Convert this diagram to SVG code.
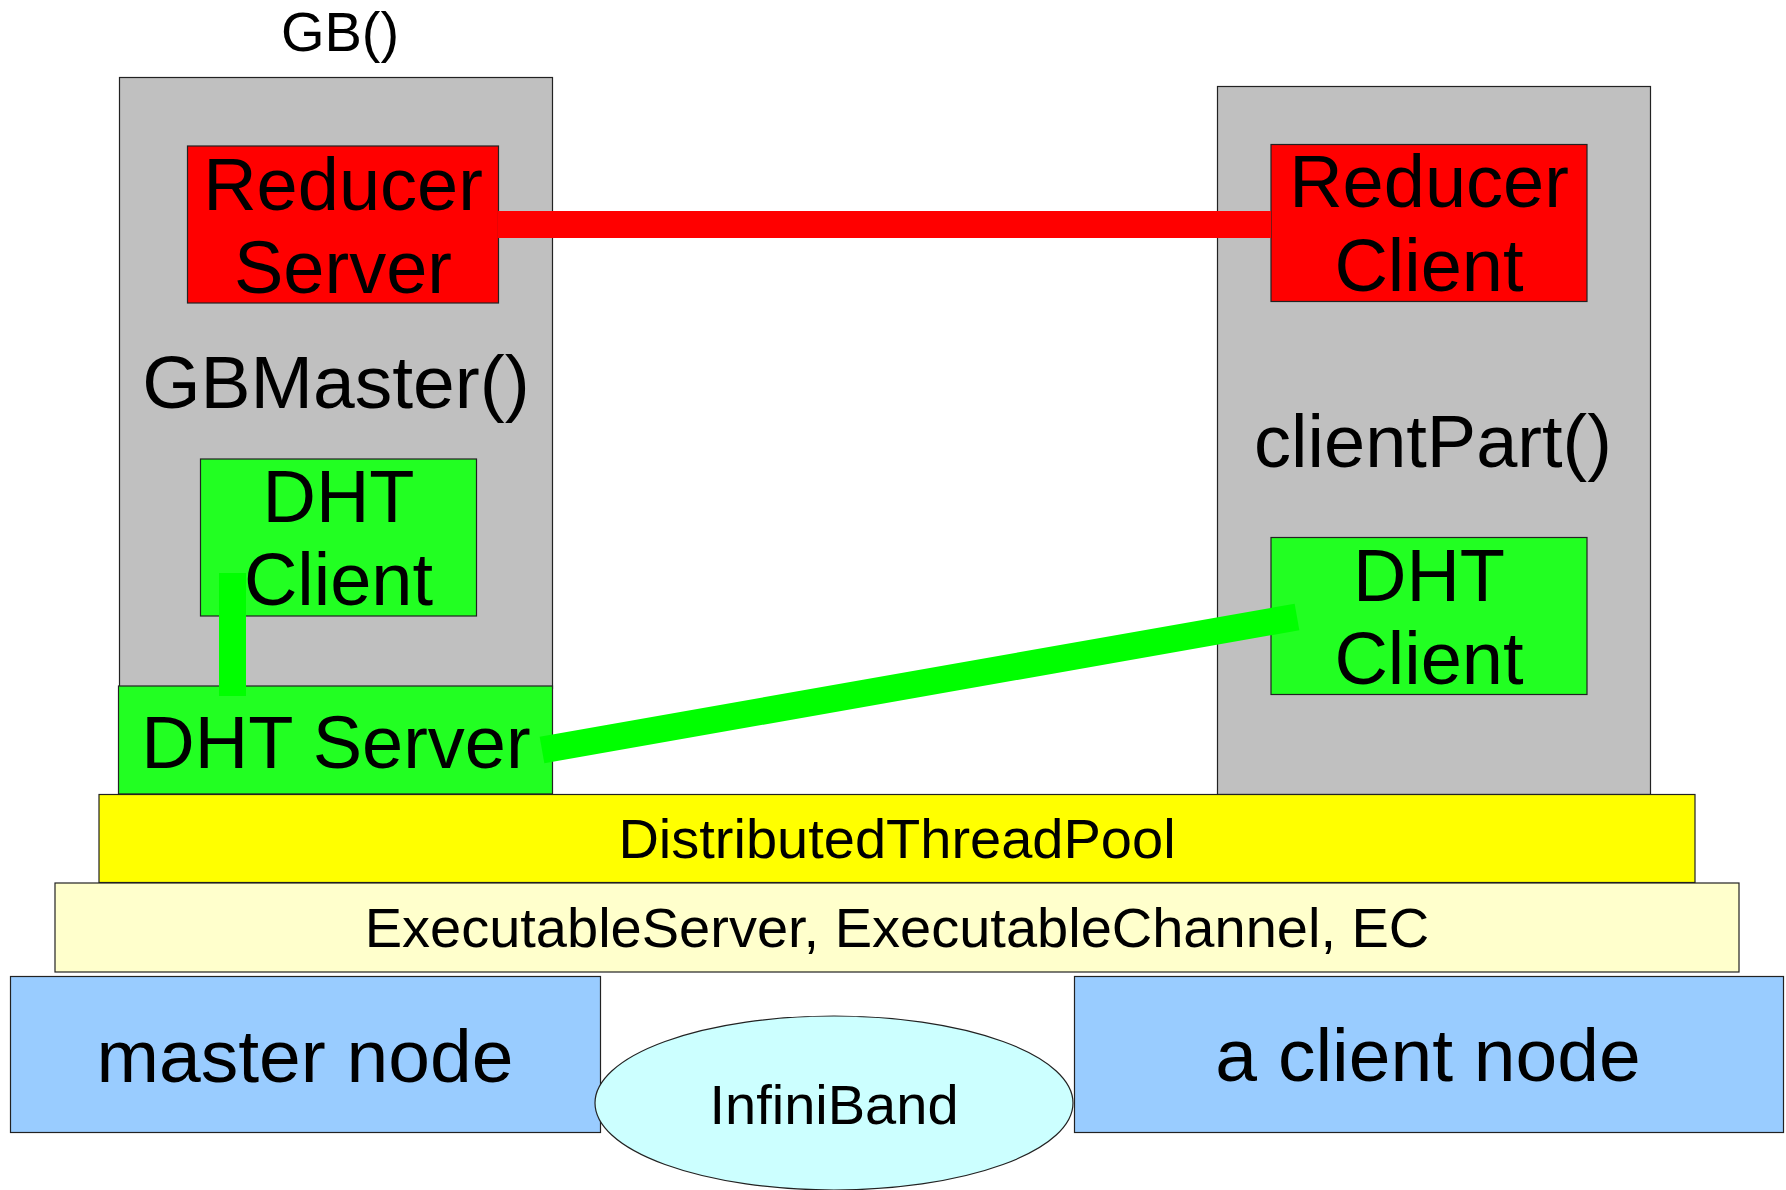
<svg xmlns="http://www.w3.org/2000/svg" width="1786" height="1190" viewBox="0 0 1786 1190">
  <style>
    text { font-family: "Liberation Sans", Arial, sans-serif; fill: #000; text-anchor: middle; }
    .big { font-size: 74px; }
    .wide { font-size: 75px; }
    .small { font-size: 56px; }
    .box { stroke: #222; stroke-width: 1.2; }
    .proc { fill: #c0c0c0; }
    .reducer { fill: #ff0000; }
    .dht { fill: #22ff22; }
    .pool { fill: #ffff00; }
    .exec { fill: #ffffcc; }
    .host { fill: #99ccff; }
    .net { fill: #ccffff; }
    .link { fill: none; stroke-width: 27; stroke-linecap: butt; }
    .red { stroke: #ff0000; }
    .green { stroke: #00ff00; }
  </style>
  <rect width="1786" height="1190" fill="#ffffff"/>

  <!-- master process -->
  <g id="gb-master">
    <text class="small" x="340" y="51">GB()</text>
    <rect class="box proc" x="119.5" y="77.5" width="433" height="611"/>
    <text class="wide" x="336" y="408">GBMaster()</text>
  </g>
  <g id="reducer-server">
    <rect class="box reducer" x="187.5" y="146" width="311" height="157"/>
    <text class="big" x="343" y="210">Reducer</text>
    <text class="big" x="343" y="293">Server</text>
  </g>
  <g id="dht-client-master">
    <rect class="box dht" x="200.5" y="459" width="276" height="157"/>
    <text class="big" x="338.5" y="522">DHT</text>
    <text class="big" x="338.5" y="605">Client</text>
  </g>
  <g id="dht-server">
    <rect class="box dht" x="118.5" y="686" width="434" height="108"/>
    <text class="big" x="336" y="768">DHT Server</text>
  </g>

  <!-- client process -->
  <g id="client-part">
    <rect class="box proc" x="1217.5" y="86.5" width="433" height="708"/>
    <text class="big" x="1433" y="467">clientPart()</text>
  </g>
  <g id="reducer-client">
    <rect class="box reducer" x="1271" y="144.5" width="316" height="157"/>
    <text class="big" x="1429" y="207">Reducer</text>
    <text class="big" x="1429" y="291">Client</text>
  </g>
  <g id="dht-client-remote">
    <rect class="box dht" x="1271" y="537.5" width="316" height="157"/>
    <text class="big" x="1429" y="601">DHT</text>
    <text class="big" x="1429" y="684">Client</text>
  </g>

  <!-- shared layers -->
  <g id="thread-pool">
    <rect class="box pool" x="99" y="794.5" width="1596" height="88"/>
    <text class="small" x="897" y="858">DistributedThreadPool</text>
  </g>
  <g id="executable-layer">
    <rect class="box exec" x="55" y="883" width="1684" height="89"/>
    <text class="small" x="897" y="947">ExecutableServer, ExecutableChannel, EC</text>
  </g>
  <g id="master-node">
    <rect class="box host" x="10.5" y="976.5" width="590" height="156"/>
    <text class="wide" x="305" y="1082">master node</text>
  </g>
  <g id="client-node">
    <rect class="box host" x="1074.5" y="976.5" width="709" height="156"/>
    <text class="wide" x="1428" y="1081">a client node</text>
  </g>
  <g id="infiniband">
    <ellipse class="box net" cx="834" cy="1103" rx="239" ry="87"/>
    <text class="small" x="834" y="1124">InfiniBand</text>
  </g>

  <!-- connections -->
  <g id="connectors">
    <line class="link red" x1="498" y1="224.5" x2="1271" y2="224.5"/>
    <line class="link green" x1="232.5" y1="573" x2="232.5" y2="696"/>
    <line class="link green" x1="542" y1="750" x2="1297" y2="617"/>
  </g>
</svg>
